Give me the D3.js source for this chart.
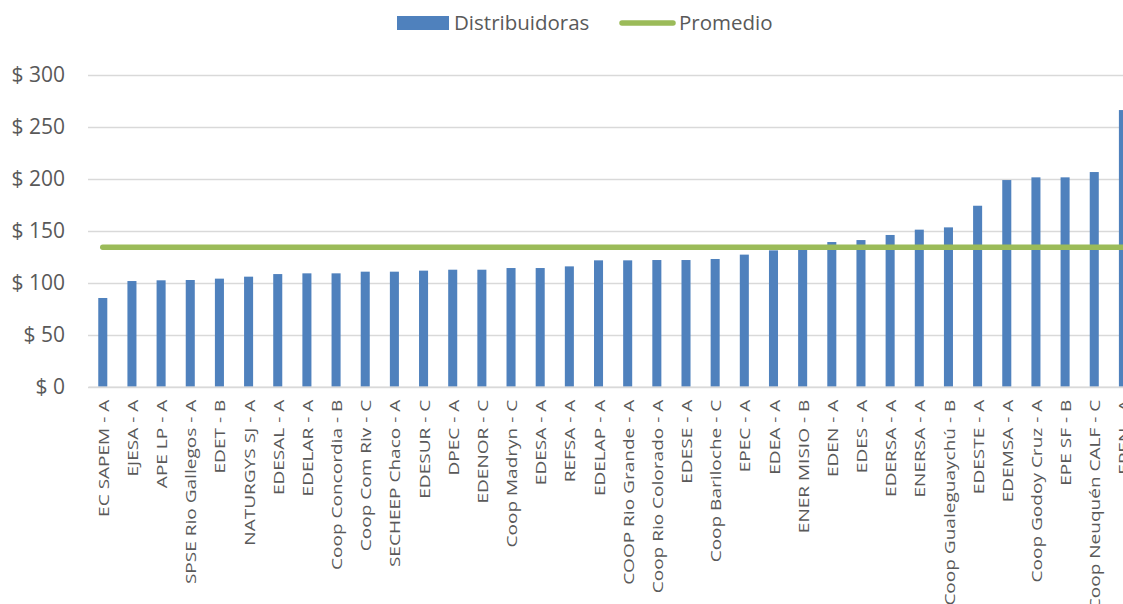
<!DOCTYPE html>
<html><head><meta charset="utf-8">
<script src="https://cdn.jsdelivr.net/npm/d3@7"></script>
<style>body{margin:0;background:#fff}svg{display:block}text{font-family:"Open Sans",sans-serif;fill:#595959}</style>
</head><body><svg id="c" width="1123" height="604"></svg>
<script>
const categories = ["EC SAPEM - A","EJESA - A","APE LP - A","SPSE Rio Gallegos - A","EDET - B","NATURGYS SJ - A","EDESAL - A","EDELAR - A","Coop Concordia - B","Coop Com Riv - C","SECHEEP Chaco - A","EDESUR - C","DPEC - A","EDENOR - C","Coop Madryn - C","EDESA - A","REFSA - A","EDELAP - A","COOP Rio Grande - A","Coop Rio Colorado - A","EDESE - A","Coop Bariloche - C","EPEC - A","EDEA - A","ENER MISIO - B","EDEN - A","EDES - A","EDERSA - A","ENERSA - A","Coop Gualeguaychú - B","EDESTE - A","EDEMSA - A","Coop Godoy Cruz - A","EPE SF - B","Coop Neuquén CALF - C","EPEN - A"];
const distribuidoras = [85.3,101.6,102.3,102.6,103.9,105.8,108.3,109,109,110.6,110.6,111.6,112.5,112.5,114.1,114.1,115.7,121.5,121.5,121.8,121.8,122.8,127,131.1,136,139.1,141,145.9,151,153.2,174,198.7,201.3,201.3,206.4,266];
const promedio = categories.map(() => 134);
const yTicks = [0,50,100,150,200,250,300];

const svg = d3.select("#c");
const x = d3.scaleBand().domain(categories).range([88.2, 1138]).paddingInner(0.69).paddingOuter(0.345);
const y = d3.scaleLinear().domain([0,300]).range([386.7, 74.7]);

svg.append("g").selectAll("line").data(yTicks).join("line")
  .attr("x1",88).attr("x2",1138).attr("y1",d=>Math.round(y(d))+0.5).attr("y2",d=>Math.round(y(d))+0.5)
  .attr("stroke","#d9d9d9").attr("stroke-width",1.3);

const yAxis = d3.axisLeft(y).tickValues(yTicks).tickFormat(d=>"$ "+d).tickSize(0).tickPadding(23);
const gy = svg.append("g").attr("transform","translate(88,0)").call(yAxis);
gy.select(".domain").remove();
gy.selectAll("text").style("font-size","21px").attr("fill","#595959").style("font-family","'Open Sans',sans-serif");

svg.append("g").selectAll("rect").data(categories).join("rect")
  .attr("x",d=>x(d)).attr("width",x.bandwidth())
  .attr("y",(d,i)=>y(distribuidoras[i])).attr("height",(d,i)=>y(0)-y(distribuidoras[i]))
  .attr("fill","#4f81bd");

const line = d3.line().x((d,i)=>x(categories[i])+x.bandwidth()/2).y(d=>y(d));
svg.append("path").datum(promedio).attr("d",line).attr("fill","none")
  .attr("stroke","#9bbb59").attr("stroke-width",5.5).attr("stroke-linecap","round");

const xAxis = d3.axisBottom(x).tickSize(0).tickPadding(0);
const gx = svg.append("g").attr("transform","translate(0,"+y(0)+")").call(xAxis);
gx.select(".domain").attr("stroke","#d9d9d9").attr("stroke-width",1.3);
gx.selectAll(".tick").each(function(){
  const t = d3.select(this);
  t.select("text").style("font-size","14px").attr("fill","#595959").style("font-family","'Open Sans',sans-serif")
    .attr("text-anchor","end").attr("x",0).attr("y",0).attr("dy","0.36em")
    .attr("transform","translate(1,13) rotate(-90) scale(1.36,1)");
});

const lg = svg.append("g");
lg.append("rect").attr("x",397).attr("y",16).attr("width",52).attr("height",14).attr("fill","#4f81bd");
lg.append("text").attr("x",454).attr("y",23).attr("dy","0.35em").style("font-size","20.5px").text("Distribuidoras");
lg.append("line").attr("x1",622).attr("x2",673).attr("y1",23).attr("y2",23).attr("stroke","#9bbb59").attr("stroke-width",5.5).attr("stroke-linecap","round");
lg.append("text").attr("x",679).attr("y",23).attr("dy","0.35em").style("font-size","20.5px").text("Promedio");
</script></body></html>
